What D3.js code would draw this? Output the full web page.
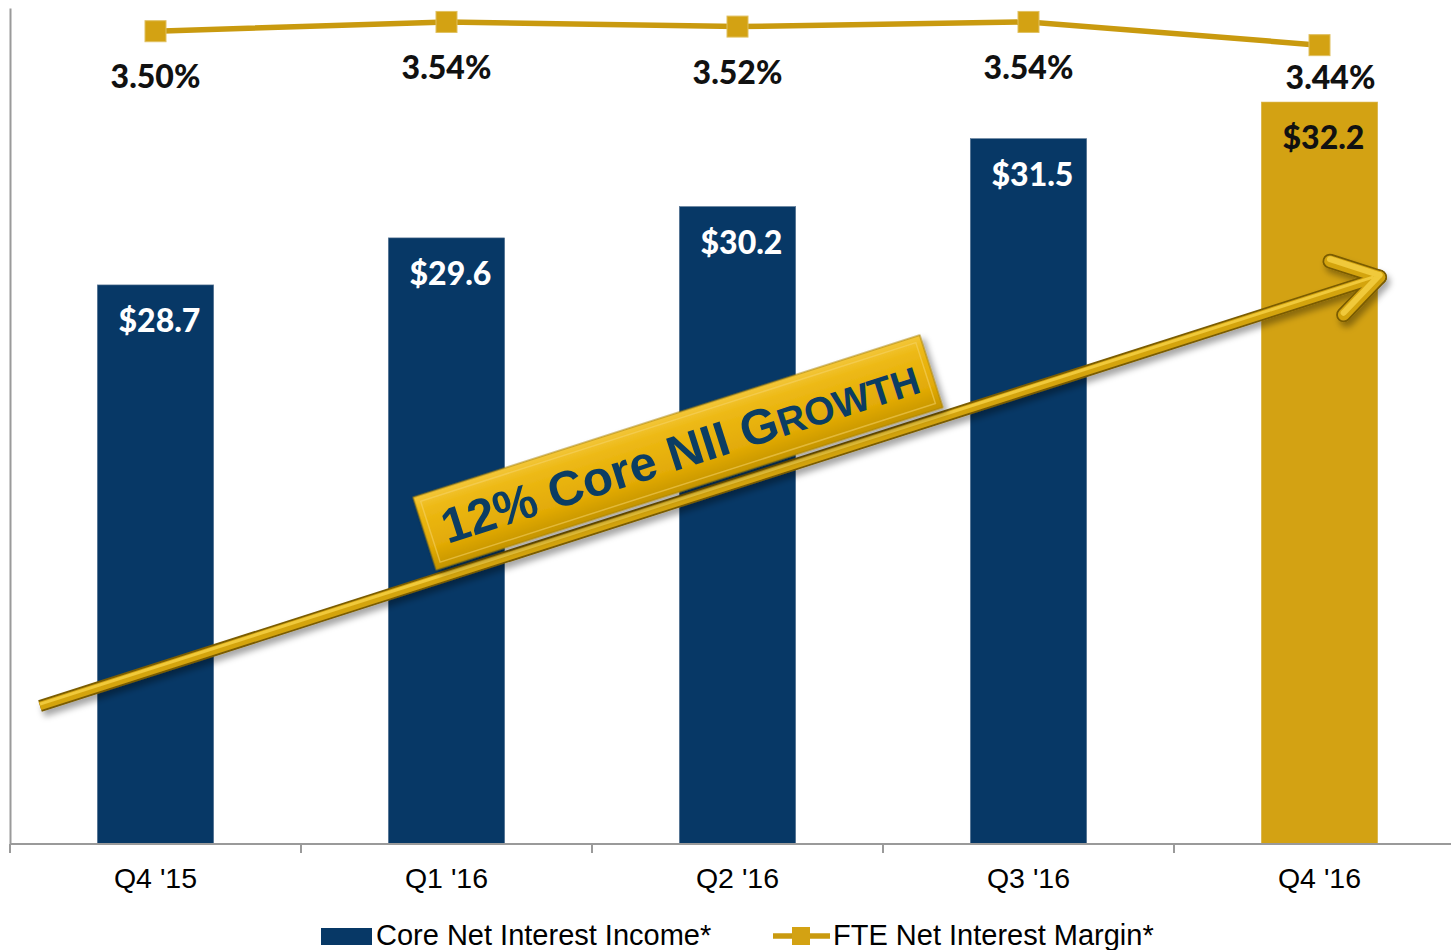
<!DOCTYPE html>
<html>
<head>
<meta charset="utf-8">
<script src="https://cdn.jsdelivr.net/npm/d3@7/dist/d3.min.js"></script>
<style>
  html, body { margin: 0; padding: 0; background: #fff; }
  svg { display: block; }
</style>
</head>
<body>
<svg id="chart" width="1451" height="950"></svg>
<script>
// ---- data ----
const categories = ["Q4 '15", "Q1 '16", "Q2 '16", "Q3 '16", "Q4 '16"];
const coreNII = [28.7, 29.6, 30.2, 31.5, 32.2];
const fteNIM = [3.50, 3.54, 3.52, 3.54, 3.44];
const seriesNames = ["Core Net Interest Income*", "FTE Net Interest Margin*"];
const calloutText = ["12% Core NII G", "ROWTH"];

// ---- styles ----
const NAVY = "#073866";
const GOLD = "#D3A213";
const LINE_GOLD = "#C99A0F";
const LABEL_FONT = "Lato, 'Open Sans', sans-serif";

const svg = d3.select("#chart");
const W = 1451, H = 950;
const plot = { left: 10, right: 1465, top: 8, bottom: 844 };

const x = d3.scaleBand().domain(categories).range([plot.left, plot.right]).padding(0);
const barW = x.bandwidth() * 0.4;
const y = d3.scaleLinear().domain([18, 34]).range([plot.bottom, plot.top]);
const y2 = d3.scaleLinear().domain([0, 3.6]).range([plot.bottom, plot.top]);

const defs = svg.append("defs");
const shadow = defs.append("filter").attr("id", "shadow")
  .attr("x", "-10%").attr("y", "-30%").attr("width", "130%").attr("height", "190%");
shadow.append("feDropShadow").attr("dx", 3).attr("dy", 5).attr("stdDeviation", 3)
  .attr("flood-color", "#000").attr("flood-opacity", 0.35);

const boxGrad = defs.append("linearGradient").attr("id", "boxGrad")
  .attr("x1", 0).attr("y1", 0).attr("x2", 0).attr("y2", 1);
boxGrad.append("stop").attr("offset", "0%").attr("stop-color", "#F3C63A");
boxGrad.append("stop").attr("offset", "20%").attr("stop-color", "#EDB914");
boxGrad.append("stop").attr("offset", "70%").attr("stop-color", "#E2AA06");
boxGrad.append("stop").attr("offset", "100%").attr("stop-color", "#C49405");

// ---- axes ----
const yAxis = svg.append("g").attr("transform", `translate(${plot.left},0)`)
  .call(d3.axisLeft(y).ticks(0).tickSizeOuter(0));
yAxis.select(".domain").attr("stroke", "#9a9a9a").attr("stroke-width", 2);

// ---- bars ----
svg.append("g").selectAll("rect").data(categories).join("rect")
  .attr("x", d => x(d) + (x.bandwidth() - barW) / 2)
  .attr("width", barW)
  .attr("y", (d, i) => y(coreNII[i]))
  .attr("height", (d, i) => y(18) - y(coreNII[i]))
  .attr("fill", (d, i) => i === categories.length - 1 ? GOLD : NAVY)
  .attr("stroke", (d, i) => i === categories.length - 1 ? "#d9b44a" : "#5d7896")
  .attr("stroke-width", 0.6);

// bar labels
svg.append("g").selectAll("text").data(categories).join("text")
  .attr("x", d => x(d) + x.bandwidth() / 2 + 4)
  .attr("y", (d, i) => y(coreNII[i]) + 47)
  .attr("text-anchor", "middle")
  .attr("font-family", LABEL_FONT)
  .attr("font-weight", 900)
  .attr("font-size", 32)
  .attr("fill", (d, i) => i === categories.length - 1 ? "#111" : "#fff")
  .text((d, i) => "$" + d3.format(".1f")(coreNII[i]));

// x axis
const xAxisG = svg.append("g").attr("transform", `translate(0,${plot.bottom})`);
xAxisG.append("line").attr("x1", plot.left).attr("x2", W).attr("y1", 0).attr("y2", 0)
  .attr("stroke", "#9a9a9a").attr("stroke-width", 2);
const boundaries = categories.map(c => x(c)).concat([x.range()[1]]);
xAxisG.selectAll("line.tick").data(boundaries).join("line").attr("class", "tick")
  .attr("x1", d => d).attr("x2", d => d).attr("y1", 0).attr("y2", 9)
  .attr("stroke", "#9a9a9a").attr("stroke-width", 2);
const xAx = xAxisG.append("g").call(d3.axisBottom(x).tickSize(0).tickPadding(0));
xAx.select(".domain").remove();
xAx.selectAll("text")
  .attr("y", 44).attr("dy", 0)
  .attr("font-family", "'Liberation Sans', Arial, sans-serif")
  .attr("font-size", 28.5)
  .attr("fill", "#000");

// ---- line series ----
const lineGen = d3.line().x((d, i) => x(categories[i]) + x.bandwidth() / 2).y(d => y2(d));
svg.append("path").datum(fteNIM)
  .attr("d", lineGen)
  .attr("fill", "none")
  .attr("stroke", LINE_GOLD)
  .attr("stroke-width", 5.5);
const mk = 21;
svg.append("g").selectAll("rect").data(fteNIM).join("rect")
  .attr("x", (d, i) => x(categories[i]) + x.bandwidth() / 2 - mk / 2)
  .attr("y", d => y2(d) - mk / 2)
  .attr("width", mk).attr("height", mk)
  .attr("fill", GOLD)
  .attr("stroke", "#e0c060").attr("stroke-width", 1);

svg.append("g").selectAll("text").data(fteNIM).join("text")
  .attr("x", (d, i) => x(categories[i]) + x.bandwidth() / 2 + (y2(d) + 57 > y(coreNII[i]) - 14 ? 11 : 0))
  .attr("y", (d, i) => Math.min(y2(d) + 57, y(coreNII[i]) - 13))
  .attr("text-anchor", "middle")
  .attr("font-family", LABEL_FONT)
  .attr("font-weight", 900)
  .attr("font-size", 32)
  .attr("fill", "#111")
  .text(d => d3.format(".2f")(d) + "%");

// ---- growth arrow annotation ----
const aStart = [plot.left + 30, y(20.64)];
const aEnd = [x(categories[4]) + x.bandwidth() / 2 + 60, y(28.85)];
const ang = Math.atan2(aEnd[1] - aStart[1], aEnd[0] - aStart[0]);
const angDeg = ang * 180 / Math.PI;
const arrowG = svg.append("g").attr("filter", "url(#shadow)");
function barbPoint(len, rot) {
  const a = ang + Math.PI + rot;
  return [aEnd[0] + len * Math.cos(a), aEnd[1] + len * Math.sin(a)];
}
const b1 = barbPoint(52, -0.5);
const b2 = barbPoint(52, 0.62);
const shaftEnd = barbPoint(6, 0);
const layers = [
  { w: 12, c: "#7a5c05" },
  { w: 8.5, c: "#D4A40F" },
  { w: 3, c: "#F0C93A" }
];
layers.forEach((L, li) => {
  const dy = li === 2 ? -2 : 0;
  arrowG.append("line")
    .attr("x1", aStart[0]).attr("y1", aStart[1] + dy)
    .attr("x2", shaftEnd[0]).attr("y2", shaftEnd[1] + dy)
    .attr("stroke", L.c).attr("stroke-width", L.w).attr("stroke-linecap", "butt");
  [b1, b2].forEach(b => {
    arrowG.append("line")
      .attr("x1", aEnd[0]).attr("y1", aEnd[1] + dy)
      .attr("x2", b[0]).attr("y2", b[1] + dy)
      .attr("stroke", L.c).attr("stroke-width", L.w + 3).attr("stroke-linecap", "round");
  });
});

// callout box
const t = 0.487;
const cxLine = aStart[0] + t * (aEnd[0] - aStart[0]);
const cyLine = aStart[1] + t * (aEnd[1] - aStart[1]);
const off = 47;
const bcx = cxLine + off * Math.sin(ang);
const bcy = cyLine - off * Math.cos(ang);
const bw = 532, bh = 76;
const boxG = svg.append("g")
  .attr("transform", `translate(${bcx},${bcy}) rotate(${angDeg})`);
boxG.append("rect")
  .attr("x", -bw / 2).attr("y", -bh / 2).attr("width", bw).attr("height", bh)
  .attr("fill", "url(#boxGrad)")
  .attr("stroke", "#a88208").attr("stroke-width", 1)
  .attr("filter", "url(#shadow)");
boxG.append("rect")
  .attr("x", -bw / 2 + 6).attr("y", -bh / 2 + 6).attr("width", bw - 12).attr("height", bh - 12)
  .attr("fill", "none")
  .attr("stroke", "#f6d468").attr("stroke-opacity", 0.55).attr("stroke-width", 1.5);
const ct = boxG.append("text")
  .attr("x", 2).attr("y", 17)
  .attr("text-anchor", "middle")
  .attr("font-family", "'Liberation Sans', Arial, sans-serif")
  .attr("font-weight", 700)
  .attr("font-size", 49)
  .attr("fill", "#0B3D63");
ct.append("tspan").text(calloutText[0]);
ct.append("tspan").attr("font-size", 39).text(calloutText[1]);

// ---- legend ----
const lg = svg.append("g");
lg.append("rect").attr("x", 321).attr("y", 928).attr("width", 51).attr("height", 17).attr("fill", NAVY);
lg.append("text").attr("x", 376).attr("y", 945)
  .attr("font-family", "'Liberation Sans', Arial, sans-serif")
  .attr("font-size", 29).attr("fill", "#000")
  .text(seriesNames[0]);
lg.append("line").attr("x1", 773).attr("x2", 830).attr("y1", 936).attr("y2", 936)
  .attr("stroke", LINE_GOLD).attr("stroke-width", 5.5);
lg.append("rect").attr("x", 792).attr("y", 927).attr("width", 18).attr("height", 18)
  .attr("fill", GOLD);
lg.append("text").attr("x", 833).attr("y", 945)
  .attr("font-family", "'Liberation Sans', Arial, sans-serif")
  .attr("font-size", 29).attr("fill", "#000")
  .text(seriesNames[1]);
</script>
</body>
</html>
